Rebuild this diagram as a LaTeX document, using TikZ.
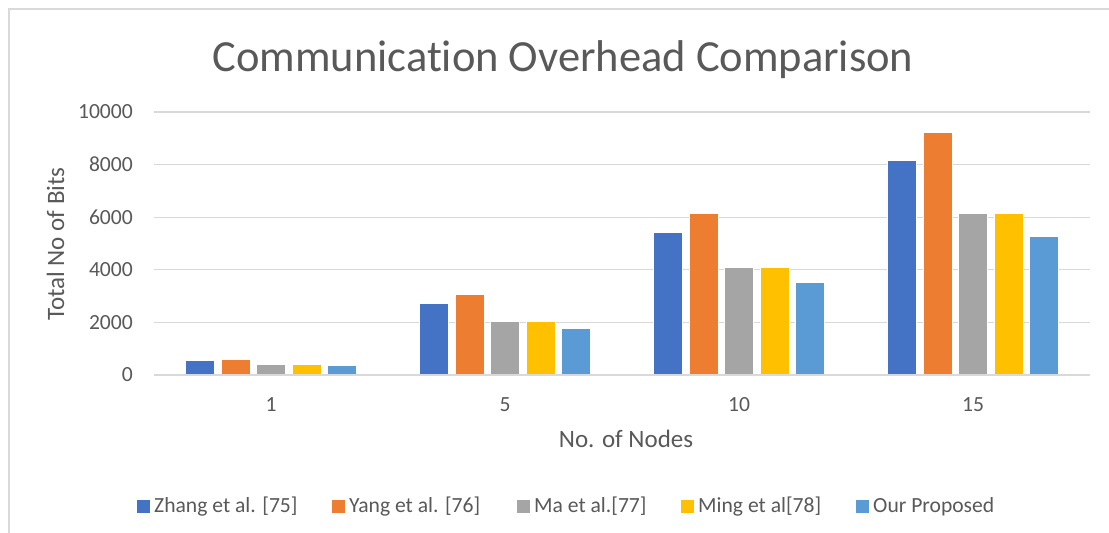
\documentclass[tikz,border=0pt]{standalone}
\usepackage{fontspec}
\setmainfont{Carlito}[Ligatures={NoCommon}]
\definecolor{cA}{HTML}{4472C4}
\definecolor{cB}{HTML}{ED7D31}
\definecolor{cC}{HTML}{A5A5A5}
\definecolor{cD}{HTML}{FFC000}
\definecolor{cE}{HTML}{5B9BD5}
\definecolor{txt}{HTML}{595959}
\definecolor{gridc}{HTML}{D9D9D9}
\tikzset{
  lbl/.style={text=txt, font=\fontsize{21.6}{26}\selectfont, inner sep=0pt},
  ttl/.style={text=txt, font=\fontsize{44.5}{52}\selectfont, inner sep=0pt},
  axt/.style={text=txt, font=\fontsize{25}{30}\selectfont, inner sep=0pt},
  bar/.style={draw=white, line width=0.6pt},
  legsq/.style={minimum size=13pt, inner sep=0pt, draw=none},
  gline/.style={draw=gridc, line width=1.3pt}
}
\begin{document}
\begin{tikzpicture}[x=1pt,y=-1pt]
\useasboundingbox (0,0) rectangle (1109,533);
\fill[white] (0,0) rectangle (1109,533);
% chart border (cropped)
\draw[gline] (9,533) -- (9,9) -- (1109,9);
% title
\node[ttl, anchor=base] (title) at (563,71) {Communication Overhead Comparison};
% gridlines and tick labels
\foreach \v in {2000,4000,6000,8000,10000}{
  \draw[gline] (154,{375-\v*0.0263}) -- (1090,{375-\v*0.0263});
}
\foreach \v/\n in {0/t0,2000/t1,4000/t2,6000/t3,8000/t4,10000/t5}{
  \node[lbl, anchor=east] (\n) at (133,{375-\v*0.0263}) {\v};
}
% bars
\foreach \g/\m in {0/1,1/5,2/10,3/15}{
  \foreach \i/\b/\c in {-2/544/cA,-1/614.4/cB,0/409.6/cC,1/409.6/cD,2/352/cE}{
    \path[bar, fill=\c] ({271+234*\g+35.4*\i-14.5},375) rectangle ({271+234*\g+35.4*\i+14.5},{375-\b*\m*0.0263});
  }
}
% axis line
\draw[gline] (154,375) -- (1090,375);
% category labels
\node[lbl] (c1) at (271,405) {1};
\node[lbl] (c2) at (505,405) {5};
\node[lbl] (c3) at (739,405) {10};
\node[lbl] (c4) at (973,405) {15};
% axis titles
\node[axt, anchor=base] (xt) at (626,447) {No. of Nodes};
\node[axt, rotate=90, anchor=base] (yt) at (64,244) {Total No of Bits};
% legend
\node[legsq, fill=cA] (l1) at (143.5,506) {};
\node[lbl, anchor=base west] (lt1) at (154,512) {Zhang et al. [75]};
\node[legsq, fill=cB] (l2) at (338.5,506) {};
\node[lbl, anchor=base west] (lt2) at (349,512) {Yang et al. [76]};
\node[legsq, fill=cC] (l3) at (523.5,506) {};
\node[lbl, anchor=base west] (lt3) at (534,512) {Ma et al.[77]};
\node[legsq, fill=cD] (l4) at (687.5,506) {};
\node[lbl, anchor=base west] (lt4) at (698,512) {Ming et al[78]};
\node[legsq, fill=cE] (l5) at (862.5,506) {};
\node[lbl, anchor=base west] (lt5) at (873,512) {Our Proposed};
\end{tikzpicture}
\end{document}
